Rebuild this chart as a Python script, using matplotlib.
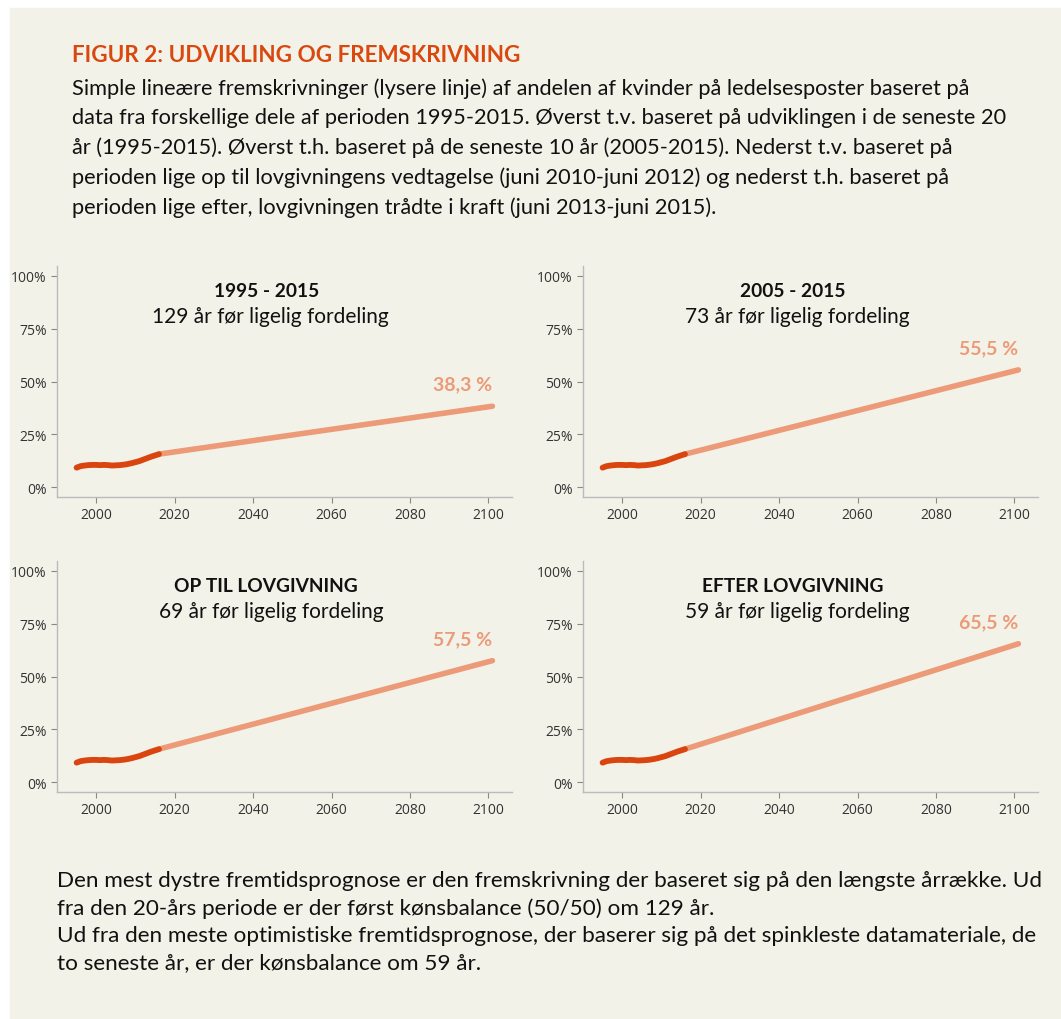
import numpy as np
import matplotlib.pyplot as plt
from matplotlib.ticker import FuncFormatter

# Historiske data: andel kvinder på ledelsesposter (1995-2016)
aar = [1995, 1996, 1997, 1998, 1999, 2000, 2001, 2002, 2003, 2004, 2005,
       2006, 2007, 2008, 2009, 2010, 2011, 2012, 2013, 2014, 2015, 2016]
andel = [0.092, 0.099, 0.102, 0.104, 0.105, 0.105, 0.104, 0.105, 0.104, 0.102,
         0.103, 0.104, 0.106, 0.109, 0.113, 0.118, 0.123, 0.130, 0.137, 0.144,
         0.150, 0.156]

# Fremskrivninger (start og slut)
frem_aar = [2016, 2101]
slutvaerdier = [0.383, 0.555, 0.575, 0.655]
slut_tekst = ["38,3 %", "55,5 %", "57,5 %", "65,5 %"]
titler = ["1995 - 2015", "2005 - 2015", "OP TIL LOVGIVNING", "EFTER LOVGIVNING"]
undertitler = ["129 år før ligelig fordeling", "73 år før ligelig fordeling",
               "69 år før ligelig fordeling", "59 år før ligelig fordeling"]

bg = "#F3F2E8"
moerk = "#D9440F"
lys = "#EC9A78"

fig = plt.figure(figsize=(10.61, 10.20), dpi=100, facecolor="white")
# beige baggrund
fig.patches.append(plt.Rectangle((10 / 1061, 0), 1, 1 - 9 / 1020,
                                 transform=fig.transFigure, color=bg, zorder=-10))

# Overskrift og brødtekst
fig.text(72 / 1061, 1 - 55 / 1020, "FIGUR 2: UDVIKLING OG FREMSKRIVNING",
         fontsize=16.2, fontweight="bold", color="#D9480F", family="Lato", va="center")
brod = ("Simple lineære fremskrivninger (lysere linje) af andelen af kvinder på ledelsesposter baseret på\n"
        "data fra forskellige dele af perioden 1995-2015. Øverst t.v. baseret på udviklingen i de seneste 20\n"
        "år (1995-2015). Øverst t.h. baseret på de seneste 10 år (2005-2015). Nederst t.v. baseret på\n"
        "perioden lige op til lovgivningens vedtagelse (juni 2010-juni 2012) og nederst t.h. baseret på\n"
        "perioden lige efter, lovgivningen trådte i kraft (juni 2013-juni 2015).")
fig.text(72 / 1061, 1 - 78 / 1020, brod, fontsize=15.7, family="Lato", color="#111111",
         va="top", linespacing=1.57)

bund = ("Den mest dystre fremtidsprognose er den fremskrivning der baseret sig på den længste årrække. Ud\n"
        "fra den 20-års periode er der først kønsbalance (50/50) om 129 år.\n"
        "Ud fra den meste optimistiske fremtidsprognose, der baserer sig på det spinkleste datamateriale, de\n"
        "to seneste år, er der kønsbalance om 59 år.")
fig.text(57 / 1061, 1 - 871 / 1020, bund, fontsize=16.2, family="Lato", color="#111111",
         va="top", linespacing=1.44)

positioner = [(57, 498), (583, 498), (57, 793), (583, 793)]

for i, (px, py) in enumerate(positioner):
    ax = fig.add_axes([px / 1061, 1 - py / 1020, 455 / 1061, 231 / 1020])
    ax.set_facecolor("none")
    ax.plot(frem_aar, [andel[-1], slutvaerdier[i]], color=lys, lw=4,
            solid_capstyle="round")
    ax.plot(aar, andel, color=moerk, lw=4.2, solid_capstyle="round")
    ax.set_xlim(1990, 2106)
    ax.set_ylim(-0.047, 1.047)
    ax.set_xticks(range(2000, 2101, 20))
    ax.set_yticks([0, 0.25, 0.5, 0.75, 1.0])
    ax.yaxis.set_major_formatter(FuncFormatter(lambda v, p: f"{v * 100:.0f}%"))
    for s in ["top", "right"]:
        ax.spines[s].set_visible(False)
    for s in ["left", "bottom"]:
        ax.spines[s].set_color("#BBBBBB")
        ax.spines[s].set_linewidth(1.0)
    ax.tick_params(colors="#888888", labelcolor="#333333", labelsize=10, length=4)
    for lab in ax.get_xticklabels() + ax.get_yticklabels():
        lab.set_family("Open Sans")

    ax.text(0.46, 0.896, titler[i], transform=ax.transAxes, ha="center", va="center",
            fontsize=13.8, fontweight="bold", family="Lato", color="#111111")
    ax.text(0.47, 0.784, undertitler[i], transform=ax.transAxes, ha="center", va="center",
            fontsize=15, family="Lato", color="#111111")
    ax.text(2093.5, slutvaerdier[i] + 0.105, slut_tekst[i], ha="center", va="center",
            fontsize=14, fontweight="bold", family="Lato", color=lys)

fig.savefig("out.png", dpi=100, facecolor="white")
